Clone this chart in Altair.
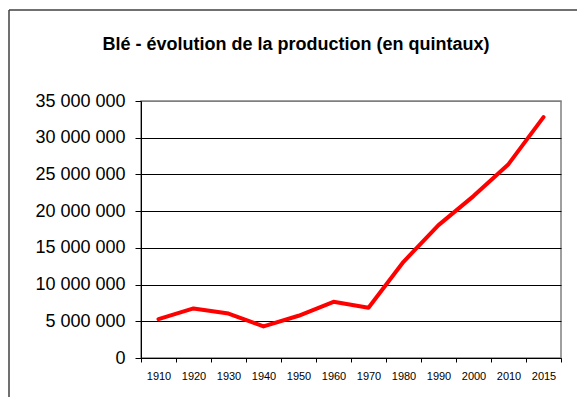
import altair as alt
import pandas as pd

years = ["1910", "1920", "1930", "1940", "1950", "1960", "1970",
         "1980", "1990", "2000", "2010", "2015"]
production = [5300000, 6750000, 6050000, 4300000, 5750000, 7650000, 6850000,
              13100000, 18100000, 22050000, 26400000, 32800000]
y_ticks = [0, 5000000, 10000000, 15000000, 20000000, 25000000, 30000000, 35000000]
title_text = "Blé - évolution de la production (en quintaux)"

df = pd.DataFrame({"annee": years, "production": production})
one = pd.DataFrame({"a": [0]})

FONT = "Liberation Sans"

line = alt.Chart(df).mark_line(
    color="#FF0000", strokeWidth=4, strokeJoin="round", strokeCap="round"
).encode(
    x=alt.X(
        "annee:O",
        sort=years,
        bandPosition=0.5,
        scale=alt.Scale(type="band", paddingInner=0, paddingOuter=0),
        axis=alt.Axis(
            title=None, labelAngle=0, tickBand="extent", tickSize=4,
            labelPadding=8, labelFontSize=11, labelFont=FONT, labelColor="black",
            domainColor="black", tickColor="black", grid=False,
        ),
    ),
    y=alt.Y(
        "production:Q",
        scale=alt.Scale(domain=[0, 35000000], nice=False),
        axis=alt.Axis(
            title=None, values=y_ticks, tickSize=6, labelPadding=10,
            labelFontSize=18, labelFont=FONT, labelColor="black",
            labelExpr="replace(format(datum.value, ','), /,/g, ' ')",
            domainColor="black", tickColor="black",
            gridColor={"condition": {"test": "datum.value >= 35000000", "value": "#808080"},
                       "value": "black"},
            gridWidth=1,
        ),
    ),
)

title = alt.Chart(one).mark_text(
    text=title_text, font=FONT, fontSize=18, fontWeight="bold",
    align="center", baseline="middle", color="black",
).encode(x=alt.value(155), y=alt.value(-56))

frame_top = alt.Chart(one).mark_rule(color="#404040", strokeWidth=1.5).encode(
    x=alt.value(-132), x2=alt.value(460), y=alt.value(-91)
)
frame_left = alt.Chart(one).mark_rule(color="#404040", strokeWidth=1.5).encode(
    x=alt.value(-132), y=alt.value(-91), y2=alt.value(320)
)

chart = alt.layer(frame_top, frame_left, title, line).properties(
    width=420, height=257,
    autosize=alt.AutoSizeParams(type="none"),
    padding={"left": 133, "top": 93, "right": 16, "bottom": 39},
    background="white",
).configure_view(stroke="#808080", strokeWidth=1.5)

chart.save("out.html", embed_options={"renderer": "svg", "actions": False})
